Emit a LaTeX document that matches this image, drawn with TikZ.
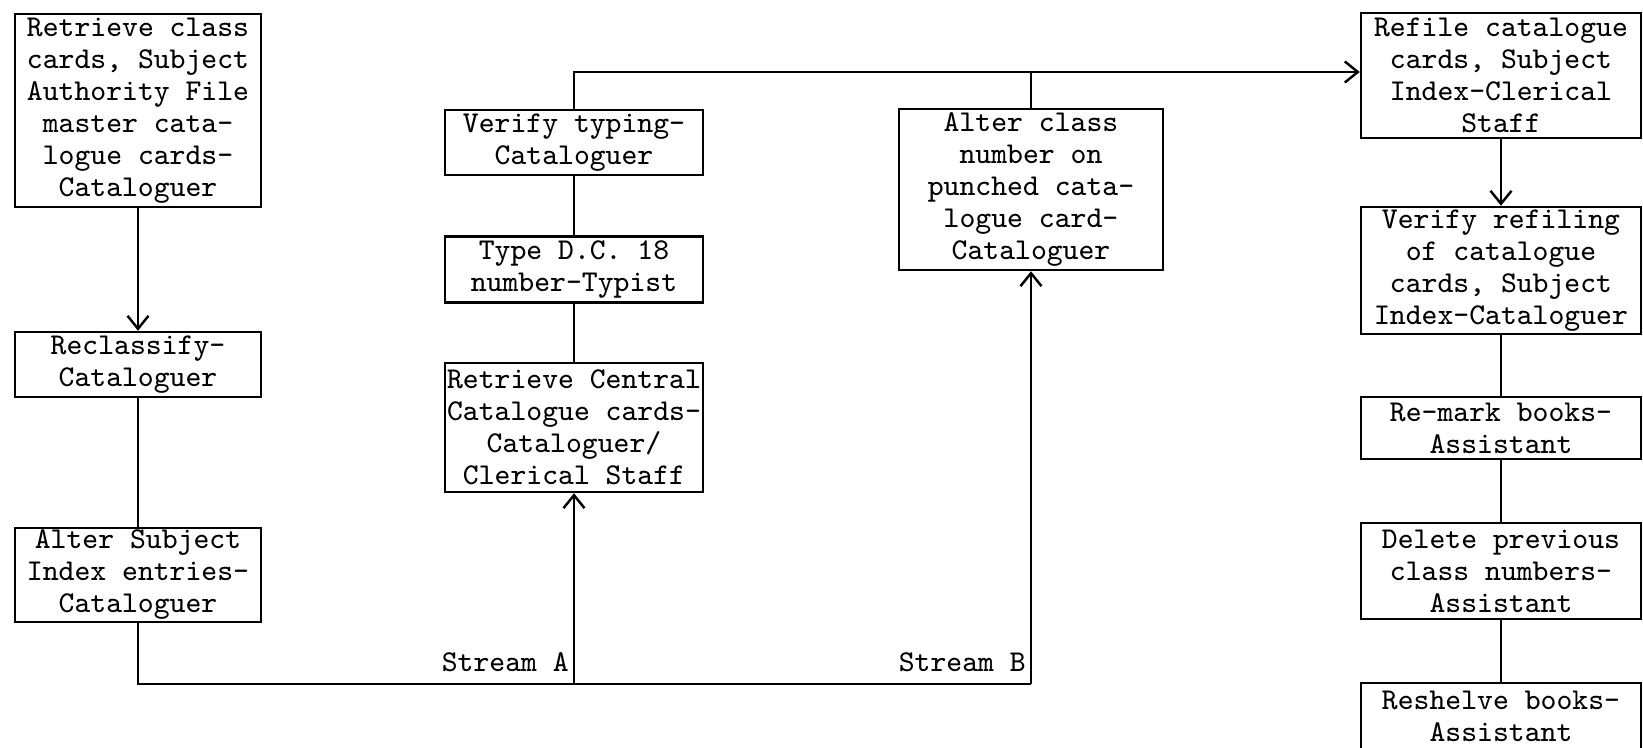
\documentclass[tikz,border=0pt]{standalone}
\usepackage{fontspec}
\usepackage{tikz}
\usetikzlibrary{arrows.meta,positioning,calc}

\begin{document}
\begin{tikzpicture}[x=0.1mm,y=-0.1mm,
    font=\fontsize{8.6pt}{3.2mm}\selectfont\ttfamily,
    line width=0.7pt,
    >={Straight Barb[length=1.3mm,width=2.1mm]},
    proc/.style={draw,inner sep=0pt,align=center,anchor=center},
    lbl/.style={inner sep=0pt}]

  \useasboundingbox (0,0) rectangle (1643,748);
  \clip (0,0) rectangle (1643,748);

  % left column
  \node[proc,minimum width=24.6mm,minimum height=19.3mm] (retclass) at (138,110.5) {%
    Retrieve class\\cards, Subject\\Authority File\\master cata-\\logue cards-\\Cataloguer};
  \node[proc,minimum width=24.6mm,minimum height=6.5mm] (reclass) at (138,364.5) {%
    Reclassify-\\Cataloguer};
  \node[proc,minimum width=24.6mm,minimum height=9.4mm] (altsubj) at (138,575) {%
    Alter Subject\\Index entries-\\Cataloguer};

  % middle column (stream A)
  \node[proc,minimum width=25.8mm,minimum height=6.5mm] (vertype) at (574,142.5) {%
    Verify typing-\\Cataloguer};
  \node[proc,minimum width=25.8mm,minimum height=6.6mm] (typedc) at (574,269.5) {%
    Type D.C. 18\\number-Typist};
  \node[proc,minimum width=25.8mm,minimum height=12.9mm] (retcent) at (574,427.5) {%
    Retrieve Central\\Catalogue cards-\\Cataloguer/\\Clerical Staff};

  % stream B
  \node[proc,minimum width=26.4mm,minimum height=16.1mm] (altclass) at (1031,189.5) {%
    Alter class\\number on\\punched cata-\\logue card-\\Cataloguer};

  % right column
  \node[proc,minimum width=28mm,minimum height=12.5mm] (refile) at (1501,75.5) {%
    Refile catalogue\\cards, Subject\\Index-Clerical\\Staff};
  \node[proc,minimum width=28mm,minimum height=12.7mm] (verref) at (1501,270.5) {%
    Verify refiling\\of catalogue\\cards, Subject\\Index-Cataloguer};
  \node[proc,minimum width=28mm,minimum height=6.2mm] (remark) at (1501,428) {%
    Re-mark books-\\Assistant};
  \node[proc,minimum width=28mm,minimum height=9.6mm] (delprev) at (1501,571) {%
    Delete previous\\class numbers-\\Assistant};
  \node[proc,minimum width=28mm,minimum height=6.6mm] (reshelve) at (1501,716) {%
    Reshelve books-\\Assistant};

  % connectors
  \coordinate (base) at (0,684);
  \coordinate (rail) at (0,72);
  \coordinate (jA) at (retcent.south |- base);
  \coordinate (jB) at (altclass.south |- base);

  \draw[->] (retclass) -- (reclass);
  \draw (reclass) -- (altsubj);
  \draw (altsubj.south) |- (jB);
  \draw[->] (jA) -- (retcent.south);
  \draw[->] (jB) -- (altclass.south);
  \draw (retcent) -- (typedc);
  \draw (typedc) -- (vertype);
  \draw[->] (vertype.north) -- (vertype.north |- rail) -- (refile.west |- rail);
  \draw (altclass.north) -- (altclass.north |- rail);
  \draw[->] (refile) -- (verref);
  \draw (verref) -- (remark);
  \draw (remark) -- (delprev);
  \draw (delprev) -- (reshelve);

  \node[lbl,above left=1.1mm and 0.4mm of jA] (strA) {Stream A};
  \node[lbl,above left=1.1mm and 0.4mm of jB] (strB) {Stream B};
\end{tikzpicture}
\end{document}
